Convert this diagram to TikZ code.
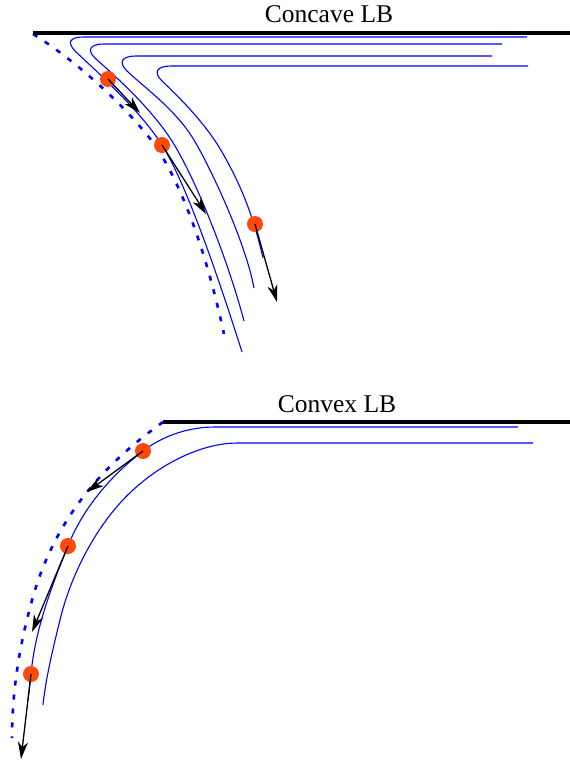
\documentclass[tikz,border=0pt]{standalone}
\usepackage{fontspec}
\setmainfont{Liberation Serif}
\usepackage{tikz}
\usetikzlibrary{arrows.meta}
\definecolor{flowblue}{HTML}{0000FF}
\definecolor{ballred}{HTML}{FF4A0C}
\tikzset{
  wall/.style={line width=3.5pt, black},
  stream/.style={flowblue, line width=1.1pt},
  bound/.style={flowblue, line width=2.6pt, dash pattern=on 5pt off 9pt},
  particle/.style={circle, fill=ballred, inner sep=0pt, minimum size=16pt},
  vel/.style={-{Stealth[length=17pt, width=10pt, inset=5pt]}, line width=1.3pt, black},
  title/.style={anchor=base, font=\fontsize{25.5}{30}\selectfont},
}
\begin{document}
\begin{tikzpicture}[x=1pt,y=-1pt]
        \useasboundingbox (0,0) rectangle (570,761);
        \node[title] (concave) at (329,22) {Concave LB};
        \node[title] (convex) at (337,412) {Convex LB};
        \draw[stream] (527,37) -- (84,37) .. controls (70,37) and (66,42) .. (76,52)
          .. controls (92,67) and (140,110) .. (162,145)
          .. controls (188,186) and (223,292) .. (242,352);
        \draw[stream] (502,44) -- (104,44) .. controls (90,44) and (86,50) .. (96,59)
          .. controls (115,76) and (148,105) .. (170,138)
          .. controls (194,174) and (228,260) .. (244,321);
        \draw[stream] (492,56) -- (136,56) .. controls (122,56) and (118,62) .. (127,71)
          .. controls (145,88) and (176,110) .. (194,140)
          .. controls (209,165) and (245,240) .. (254,288);
        \draw[stream] (528,66) -- (171,66) .. controls (157,66) and (153,72) .. (162,81)
          .. controls (180,98) and (206,124) .. (222,152)
          .. controls (238,180) and (252,210) .. (263,258);
        \draw[bound] (33,34) .. controls (75,60) and (125,105) .. (155,145)
          .. controls (185,190) and (208,260) .. (224,334);
        \draw[wall] (33,33) -- (570,33);
        \draw[stream] (518,427) -- (215,427) .. controls (185,427) and (160,438) .. (143,451)
          .. controls (110,476) and (82,510) .. (68,546)
          .. controls (52,585) and (35,630) .. (31,674) -- (28,700);
        \draw[stream] (533,443) -- (238,443) .. controls (200,443) and (160,465) .. (133,490)
          .. controls (100,520) and (72,570) .. (60,620)
          .. controls (50,660) and (45,685) .. (43,705);
        \draw[bound] (163,422) .. controls (110,460) and (60,510) .. (35,590)
          .. controls (20,640) and (12,690) .. (12,738);
        \draw[wall] (163,422) -- (570,422);
        \foreach \nm/\pos/\tip in {%
          {a1/{108,79}/{140,113}},
          {a2/{162,145}/{206,214}},
          {a3/{255,224}/{277,302}},
          {b1/{143,451}/{87,492}},
          {b2/{68,546}/{32,632}},
          {b3/{31,674}/{21,759}}} {
          \node[particle] (\nm) at (\pos) {};
          \coordinate (\nm tip) at (\tip);
          \draw[vel] (\nm.center) -- (\nm tip);
        }
      \end{tikzpicture}
\end{document}
